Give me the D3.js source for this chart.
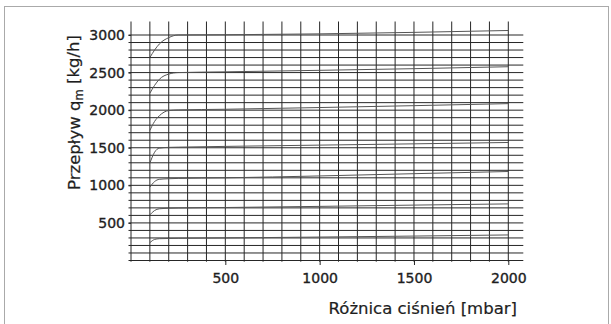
<!DOCTYPE html>
<html>
<head>
  <meta charset="utf-8">
  <title>Przepływ - różnica ciśnień</title>
  <script src="https://d3js.org/d3.v7.min.js"></script>
  <style>
    body { margin: 0; background: #fff; }
    text { font-family: "DejaVu Sans", sans-serif; fill: #1e1e1e; stroke: #1e1e1e; stroke-width: 0.35px; }
    .grid line { stroke: #262626; stroke-width: 1; }
    .axis line { stroke: #262626; }
    .axis .domain { display: none; }
    .curve { fill: none; stroke: #555; stroke-width: 1; }
  </style>
</head>
<body>
<svg class="chart" width="611" height="324"></svg>
<script>

// pressure difference [mbar] at which the curves were read
var pressure = [100, 125, 150, 200, 250, 500, 1000, 1500, 2000];

// flow q_m [kg/h], one array per curve
var flow3000 = [2700, 2800, 2880, 2965, 3000, 3003, 3015, 3035, 3060];
var flow2500 = [2225, 2330, 2410, 2480, 2500, 2510, 2530, 2552, 2578];
var flow2000 = [1730, 1850, 1925, 1995, 2003, 2012, 2035, 2060, 2087];
var flow1500 = [1295, 1440, 1495, 1505, 1508, 1518, 1535, 1552, 1570];
var flow1100 = [975, 1050, 1080, 1088, 1092, 1100, 1125, 1155, 1184];
var flow700  = [607, 665, 688, 695, 698, 705, 720, 737, 753];
var flow300  = [237, 280, 290, 293, 295, 300, 312, 325, 340];

var xTicks = [500, 1000, 1500, 2000];
var yTicks = [500, 1000, 1500, 2000, 2500, 3000];

var series = [flow3000, flow2500, flow2000, flow1500, flow1100, flow700, flow300];

var svg = d3.select(".chart");

// frame round the picture
svg.append("rect")
    .attr("x", 4.5).attr("y", 6.5)
    .attr("width", 604).attr("height", 340)
    .attr("fill", "none")
    .attr("stroke", "#aaa");

var x = d3.scaleLinear().domain([0, 2000]).range([131, 508.3]);
var y = d3.scaleLinear().domain([0, 3000]).range([260.5, 35]);

// grid every 100 mbar / 100 kg/h
var grid = svg.append("g").attr("class", "grid");

grid.selectAll(".h")
    .data(d3.range(0, 3001, 100))
  .enter().append("line")
    .attr("class", "h")
    .attr("x1", x(0) - 2.5)
    .attr("x2", x(2000) + 15)
    .attr("y1", function(d) { return y(d); })
    .attr("y2", function(d) { return y(d); });

grid.selectAll(".v")
    .data(d3.range(0, 2001, 100))
  .enter().append("line")
    .attr("class", "v")
    .attr("x1", function(d) { return x(d); })
    .attr("x2", function(d) { return x(d); })
    .attr("y1", y(3000) - 13.5)
    .attr("y2", y(0) + 1.2);

// curves
var line = d3.line()
    .x(function(d, i) { return x(pressure[i]); })
    .y(function(d) { return y(d); })
    .curve(d3.curveMonotoneX);

svg.selectAll(".curve")
    .data(series)
  .enter().append("path")
    .attr("class", "curve")
    .attr("d", line);

// axes
var xAxis = svg.append("g")
    .attr("class", "axis")
    .attr("transform", "translate(0," + y(0) + ")")
    .call(d3.axisBottom(x).tickValues(xTicks).tickFormat(d3.format("d"))
      .tickSize(4.5).tickPadding(8));
xAxis.selectAll("text").style("font-size", "14px");

var yAxis = svg.append("g")
    .attr("class", "axis")
    .attr("transform", "translate(" + x(0) + ",0)")
    .call(d3.axisLeft(y).tickValues(yTicks).tickFormat(d3.format("d"))
      .tickSize(2.5).tickPadding(3.5));
yAxis.selectAll("text").style("font-size", "14px");

svg.selectAll(".axis text").attr("fill", "#1e1e1e");

// titles
svg.append("text")
    .attr("x", 517)
    .attr("y", 314)
    .attr("text-anchor", "end")
    .style("font-size", "16.5px")
    .style("stroke-width", "0.2px")
    .text("Różnica ciśnień [mbar]");

var yTitle = svg.append("text")
    .attr("transform", "translate(80,112.5) rotate(-90)")
    .attr("text-anchor", "middle")
    .style("font-size", "16.5px")
    .style("stroke-width", "0.2px");
yTitle.append("tspan").text("Przepływ q");
yTitle.append("tspan").attr("dy", "0.3em").style("font-size", "11.5px").text("m");
yTitle.append("tspan").attr("dy", "-0.3em").text(" [kg/h]");

</script>
</body>
</html>
